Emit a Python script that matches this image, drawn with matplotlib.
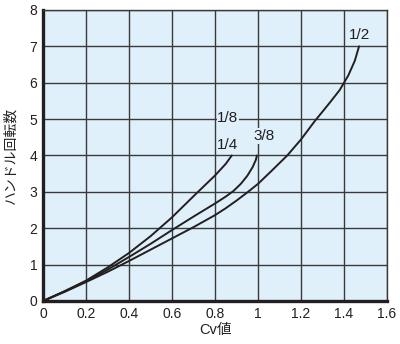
import matplotlib
matplotlib.use("Agg")
import matplotlib.pyplot as plt

plt.rcParams['font.family'] = ['Liberation Sans', 'Noto Sans CJK JP', 'DejaVu Sans']

# Cv value vs handle turns
cv_a = [0, 0.1, 0.2, 0.3, 0.4, 0.5, 0.6, 0.7, 0.8, 0.85, 0.878]
turns_a = [0, 0.27, 0.56, 0.92, 1.32, 1.78, 2.3, 2.88, 3.45, 3.77, 4.0]

cv_b = [0, 0.1, 0.2, 0.3, 0.4, 0.5, 0.6, 0.7, 0.8, 0.85, 0.885, 0.92, 0.95,
        0.975, 0.99, 0.995]
turns_b = [0, 0.26, 0.54, 0.86, 1.21, 1.57, 1.95, 2.32, 2.68, 2.87, 3.02, 3.22,
           3.44, 3.68, 3.88, 4.0]

cv_c = [0, 0.1, 0.2, 0.3, 0.4, 0.5, 0.6, 0.7, 0.8, 0.85, 0.9, 0.947, 1.0, 1.06,
        1.136, 1.2, 1.262, 1.335, 1.38, 1.42, 1.45, 1.47]
turns_c = [0, 0.25, 0.52, 0.8, 1.1, 1.41, 1.72, 2.03, 2.36, 2.55, 2.76, 2.97, 3.22,
           3.56, 4.0, 4.44, 4.93, 5.46, 5.8, 6.2, 6.6, 7.0]

sizes = ['1/8', '1/4', '3/8', '1/2']
size_x = [0.86, 0.86, 1.03, 1.47]
size_y = [5.04, 4.3, 4.53, 7.3]

bg = '#dff0fb'
ink = '#231f20'

fig = plt.figure(figsize=(4.0, 3.44), dpi=100)
ax = fig.add_axes([0.1075, 0.125, 0.86, 0.846])
ax.set_facecolor(bg)

for x, y in [(cv_a, turns_a), (cv_b, turns_b), (cv_c, turns_c)]:
    ax.plot(x, y, color=ink, lw=1.4, solid_capstyle='round',
            solid_joinstyle='round', zorder=3)

for s, x, y in zip(sizes, size_x, size_y):
    ax.text(x, y, s, fontsize=11, ha='center', va='center', color=ink, zorder=4,
            bbox=dict(facecolor=bg, edgecolor='none', pad=0.5))

ax.set_xlim(0, 1.6)
ax.set_ylim(0, 8)
ax.set_xticks([0, 0.2, 0.4, 0.6, 0.8, 1, 1.2, 1.4, 1.6])
ax.set_xticklabels(['0', '0.2', '0.4', '0.6', '0.8', '1', '1.2', '1.4', '1.6'])
ax.set_yticks(range(9))
ax.grid(True, color='#3a3a3a', lw=1.0, zorder=1)
ax.set_axisbelow(True)
ax.tick_params(length=0, labelsize=10, colors=ink, pad=4)

for side in ['top', 'right']:
    ax.spines[side].set_color('#3a3a3a')
    ax.spines[side].set_linewidth(1.0)
for side in ['left', 'bottom']:
    ax.spines[side].set_color(ink)
    ax.spines[side].set_linewidth(2.4)

ax.set_xlabel('Cv値', fontsize=10.5, color=ink, labelpad=2)
ax.set_ylabel('ハンドル回転数', fontsize=10, color=ink, labelpad=9)

fig.savefig('out.png', dpi=100)
